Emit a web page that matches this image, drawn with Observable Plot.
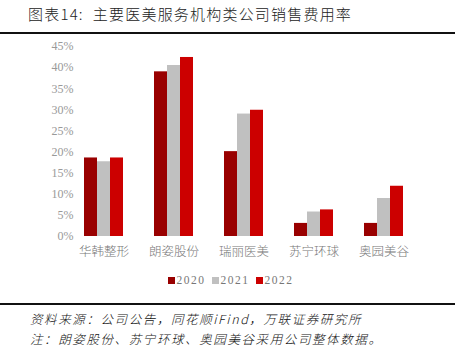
<!DOCTYPE html>
<html><head><meta charset="utf-8">
<script src="https://cdn.jsdelivr.net/npm/d3@7"></script>
<script src="https://cdn.jsdelivr.net/npm/@observablehq/plot@0.6"></script>
<style>
body{margin:0;background:#fff;width:455px;height:351px;position:relative;overflow:hidden;font-family:"Noto Sans CJK SC",sans-serif;}
#title{position:absolute;left:28px;top:3px;font-size:15px;color:#222;font-family:"Noto Sans CJK SC";font-weight:300;letter-spacing:1.2px;white-space:nowrap;}
.rule{position:absolute;left:0;width:455px;height:2px;background:#111;}
#chart{position:absolute;left:0;top:35px;}
#legend{position:absolute;top:274px;left:0;width:455px;text-align:center;font-family:"Liberation Serif",serif;font-size:11.5px;color:#777;letter-spacing:1.5px;}
#legend span.sw{display:inline-block;width:7px;height:7px;margin-right:2px;margin-left:6px;vertical-align:0px;}
.note{position:absolute;left:30px;font-size:12.5px;font-style:italic;color:#111;font-family:"Noto Sans CJK SC";font-weight:300;letter-spacing:1.6px;white-space:nowrap;}
</style></head>
<body>
<div id="title">图表14:&nbsp; 主要医美服务机构类公司销售费用率</div>
<div class="rule" style="top:32px"></div>
<div id="chart"></div>
<div id="legend"></div>
<div class="rule" style="top:303px"></div>
<div class="note" style="top:309px">资料来源：公司公告，同花顺iFind，万联证券研究所</div>
<div class="note" style="top:329px">注：朗姿股份、苏宁环球、奥园美谷采用公司整体数据。</div>
<script>
const categories = ["华韩整形","朗姿股份","瑞丽医美","苏宁环球","奥园美谷"];
const years = ["2020","2021","2022"];
const v2020 = [18.6, 39.0, 20.1, 3.1, 3.1];
const v2021 = [17.7, 40.5, 29.0, 5.8, 9.0];
const v2022 = [18.6, 42.4, 29.9, 6.3, 11.9];
const colors = ["#990000","#C0C0C0","#CC0000"];
const yTicks = [0,5,10,15,20,25,30,35,40,45];

const series = [v2020, v2021, v2022];
const data = [];
categories.forEach((c, i) => years.forEach((y, j) => data.push({cat: c, year: y, value: series[j][i]})));

const plot = Plot.plot({
  width: 455,
  height: 225,
  marginLeft: 67,
  marginRight: 35,
  marginTop: 11,
  marginBottom: 24,
  style: {background: "transparent"},
  fx: {domain: categories, paddingInner: 0.42, paddingOuter: 0.21, label: null},
  x: {domain: years, padding: 0, axis: null},
  y: {domain: [0, 45], label: null},
  color: {domain: years, range: colors},
  marks: [
    Plot.barY(data, {fx: "cat", x: "year", y: "value", fill: "year", inset: 0}),
    Plot.axisY({ticks: yTicks, tickFormat: d => d + "%", tickSize: 0, tickPadding: 10,
      fontFamily: "Liberation Serif", fontSize: 12, fill: "#999", label: null}),
    Plot.axisFx({anchor: "bottom", tickSize: 0, tickPadding: 11, fontSize: 12.5,
      fill: "#777", label: null, fontFamily: "Noto Sans CJK SC", fontWeight: 300, letterSpacing: 0.8})
  ]
});
document.getElementById("chart").appendChild(plot);

const lg = document.getElementById("legend");
years.forEach((y, i) => {
  lg.insertAdjacentHTML("beforeend", `<span class="sw" style="background:${colors[i]}"></span>${y}`);
});
</script>
</body></html>
